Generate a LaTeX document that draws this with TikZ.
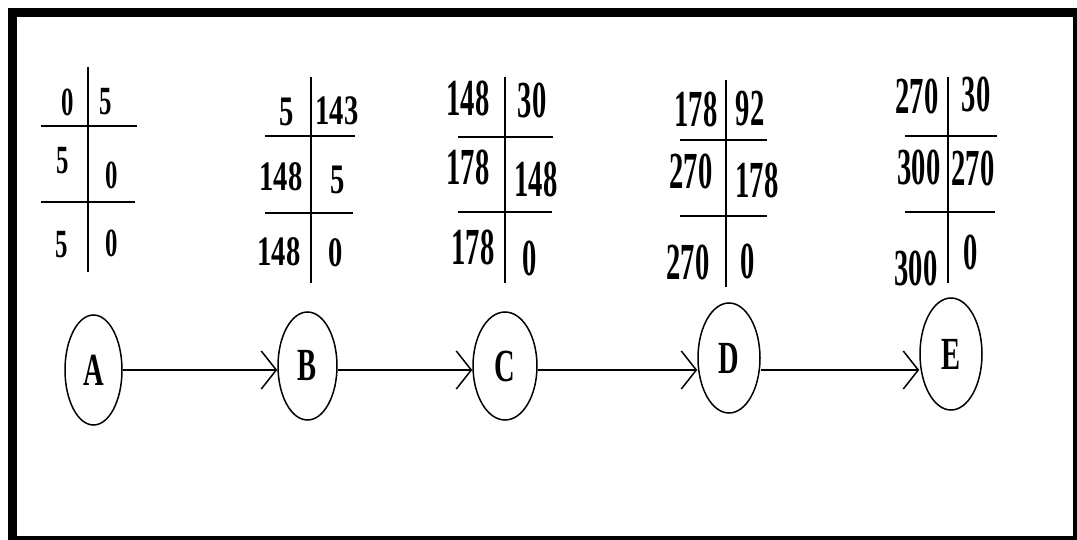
\documentclass[tikz,border=0pt]{standalone}
\usepackage{fontspec}
\setmainfont{Liberation Serif}
\newfontfamily\fA[FakeStretch=0.62,UprightFont=* Bold]{Liberation Serif}
\newfontfamily\fa[FakeStretch=0.68,UprightFont=* Bold]{Liberation Serif}
\newfontfamily\fc[FakeStretch=0.55,UprightFont=* Bold]{Liberation Serif}
\newfontfamily\fl[FakeStretch=0.62,UprightFont=* Bold]{Liberation Serif}
\usetikzlibrary{shapes.geometric,arrows.meta}
\tikzset{
  na/.style={font=\fA\fontsize{40}{40}\selectfont, inner sep=0pt},
  nb/.style={font=\fa\fontsize{42}{42}\selectfont, inner sep=0pt},
  nc/.style={font=\fc\fontsize{52}{52}\selectfont, inner sep=0pt},
  tl/.style={line width=1.8pt, black},
  st/.style={ellipse, draw, line width=1.5pt, inner sep=0pt, font=\fl\fontsize{46}{46}\selectfont},
  arr/.style={line width=2.2pt, -{Straight Barb[length=15pt,width=38pt,line width=1.5pt]}},
}
\begin{document}
\begin{tikzpicture}[x=1pt,y=-1pt]
\useasboundingbox (0,0) rectangle (1077,540);
\fill[white] (0,0) rectangle (1077,540);
% frame
\draw[line width=9pt] (12.5,540) -- (12.5,12.5) -- (1077,12.5);
\draw[line width=4pt] (1075,12.5) -- (1075,537.5) -- (12.5,537.5);
% table A
\draw[tl] (88,67) -- (88,272);
\draw[tl] (41,126) -- (137,126);
\draw[tl] (41,202) -- (135,202);
\node[na] (a11) at (68,102) {0};
\node[na] (a12) at (106,102) {5};
\node[na] (a21) at (63,161) {5};
\node[na] (a22) at (112,175) {0};
\node[na] (a31) at (62,245) {5};
\node[na] (a32) at (112,243) {0};
% table B
\draw[tl] (311,77) -- (311,283);
\draw[tl] (265,136) -- (355,136);
\draw[tl] (265,213) -- (353,213);
\node[nb] (b11) at (287,112) {5};
\node[nb] (b12) at (337,111) {143};
\node[nb] (b21) at (281,177) {148};
\node[nb] (b22) at (338,180) {5};
\node[nb] (b31) at (279,252) {148};
\node[nb] (b32) at (336,253) {0};
% table C
\draw[tl] (505,77) -- (505,283);
\draw[tl] (458,137) -- (553,137);
\draw[tl] (458,212) -- (552,212);
\node[nc] (c11) at (468,98) {148};
\node[nc] (c12) at (532,100) {30};
\node[nc] (c21) at (468,167) {178};
\node[nc] (c22) at (536,179) {148};
\node[nc] (c31) at (473,247) {178};
\node[nc] (c32) at (530,258) {0};
% table D
\draw[tl] (726,80) -- (726,287);
\draw[tl] (680,140) -- (767,140);
\draw[tl] (680,216) -- (767,216);
\node[nc] (d11) at (696,109) {178};
\node[nc] (d12) at (750,109) {92};
\node[nc] (d21) at (691,171) {270};
\node[nc] (d22) at (757,180) {178};
\node[nc] (d31) at (688,262) {270};
\node[nc] (d32) at (748,261) {0};
% table E
\draw[tl] (948,77) -- (948,283);
\draw[tl] (905,136) -- (997,136);
\draw[tl] (905,212) -- (995,212);
\node[nc] (e11) at (917,96) {270};
\node[nc] (e12) at (976,94) {30};
\node[nc] (e21) at (919,167) {300};
\node[nc] (e22) at (973,168) {270};
\node[nc] (e31) at (916,268) {300};
\node[nc] (e32) at (971,252) {0};
% states
\node[st, minimum width=57pt, minimum height=110pt] (A) at (93.5,370) {A};
\node[st, minimum width=59pt, minimum height=108pt] (B) at (307.5,366) {B};
\node[st, minimum width=64pt, minimum height=108pt] (C) at (505,366) {C};
\node[st, minimum width=62pt, minimum height=110pt] (D) at (729,358) {D};
\node[st, minimum width=62pt, minimum height=112pt] (E) at (951,354) {E};
% connectors
\draw[arr] (A.east) -- (A.east -| B.west);
\draw[arr] (B.east |- A.east) -- (A.east -| C.west);
\draw[arr] (C.east |- A.east) -- (A.east -| D.west);
\draw[arr] (D.east |- A.east) -- (A.east -| E.west);
\end{tikzpicture}
\end{document}
